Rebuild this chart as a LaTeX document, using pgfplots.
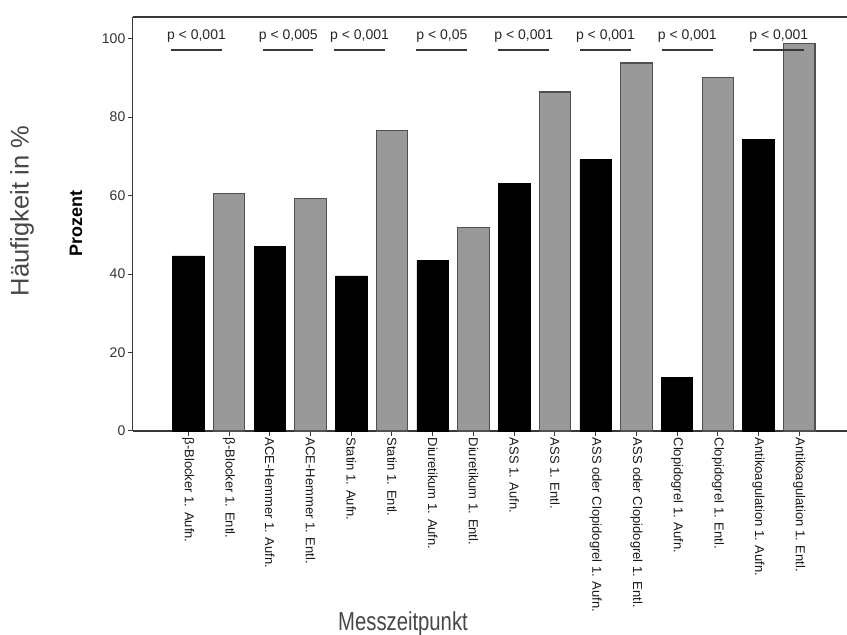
\documentclass[border=0pt]{standalone}
\usepackage{fontspec}
\setmainfont{Liberation Sans}
\usepackage{graphicx}
\usepackage{pgfplots}
\pgfplotsset{compat=1.18}

\definecolor{bargray}{HTML}{999999}
\definecolor{edgegray}{HTML}{505050}
\definecolor{axisgray}{HTML}{383838}
\definecolor{titlegray}{HTML}{474747}

% Anteil der Patienten (%) bei Aufnahme (schwarz) und Entlassung (grau)
\pgfplotstableread{
pos val
0  44.6
2  47.0
4  39.5
6  43.4
8  63.1
10 69.2
12 13.7
14 74.2
}\aufnahme
\pgfplotstableread{
pos val
1  60.5
3  59.2
5  76.6
7  51.8
9  86.4
11 93.8
13 90.1
15 98.8
}\entlassung

\begin{document}
\begin{tikzpicture}
\useasboundingbox (0pt,0pt) rectangle (847pt,635pt);
\begin{axis}[
  at={(132.5pt,204pt)}, anchor=south west,
  scale only axis, width=714.5pt, height=414pt,
  xmin=-1.37, xmax=16.17, ymin=0, ymax=105.5,
  axis x line*=box, axis y line*=left,
  axis line style={axisgray, line width=1.1pt},
  tick align=outside, major tick length=5pt,
  every tick/.style={axisgray, line width=1pt},
  xtick pos=bottom, ytick pos=left,
  xtick={0,...,15},
  xticklabels={
    β-Blocker 1. Aufn., β-Blocker 1. Entl.,
    ACE-Hemmer 1. Aufn., ACE-Hemmer 1. Entl.,
    Statin 1. Aufn., Statin 1. Entl.,
    Diuretikum 1. Aufn., Diuretikum 1. Entl.,
    ASS 1. Aufn., ASS 1. Entl.,
    ASS oder Clopidogrel 1. Aufn., ASS oder Clopidogrel 1. Entl.,
    Clopidogrel 1. Aufn., Clopidogrel 1. Entl.,
    Antikoagulation 1. Aufn., Antikoagulation 1. Entl.},
  xticklabel style={rotate=-90, anchor=west, inner sep=1.5pt,
    font=\fontsize{13}{15}\selectfont, text=black!90},
  ytick={0,20,...,100},
  yticklabel style={font=\fontsize{14}{16}\selectfont, text=black!80, inner sep=2pt},
  /pgf/number format/assume math mode=true,
  clip=false,
]
\addplot[ybar, bar width=31.5pt, bar shift=0pt, fill=black, draw=black, line width=0.8pt]
  table[x=pos, y=val] {\aufnahme};
\addplot[ybar, bar width=31.5pt, bar shift=0pt, fill=bargray, draw=edgegray, line width=1.2pt]
  table[x=pos, y=val] {\entlassung};

% Signifikanzangaben je Paar
\foreach \a/\b/\t in {-0.42/0.82/{p < 0,001}, 1.84/3.07/{p < 0,005},
                      3.58/4.83/{p < 0,001}, 5.60/6.85/{p < 0,05},
                      7.61/8.86/{p < 0,001}, 9.62/10.86/{p < 0,001},
                      11.62/12.88/{p < 0,001}, 13.87/15.12/{p < 0,001}}{
  \edef\temp{\noexpand\draw[axisgray, line width=1.2pt] (axis cs:\a,97.1) -- (axis cs:\b,97.1);}
  \temp
  \pgfmathsetmacro{\c}{(\a+\b)/2}
  \edef\temp{\noexpand\node[font=\noexpand\fontsize{14}{16}\noexpand\selectfont, text=black!85] at (axis cs:\c,100.7) {\t};}
  \temp
}
\end{axis}

\node[rotate=90, font=\bfseries\fontsize{18}{20}\selectfont] at (76pt,411pt) {Prozent};
\node[rotate=90, text=titlegray, font=\fontsize{25.5}{28}\selectfont] at (22pt,424pt) {Häufigkeit in \%};
\node[text=titlegray, anchor=base, inner sep=0pt] at (403pt,4pt)
  {\scalebox{0.78}[1]{\fontsize{26}{28}\selectfont Messzeitpunkt}};
\end{tikzpicture}
\end{document}
